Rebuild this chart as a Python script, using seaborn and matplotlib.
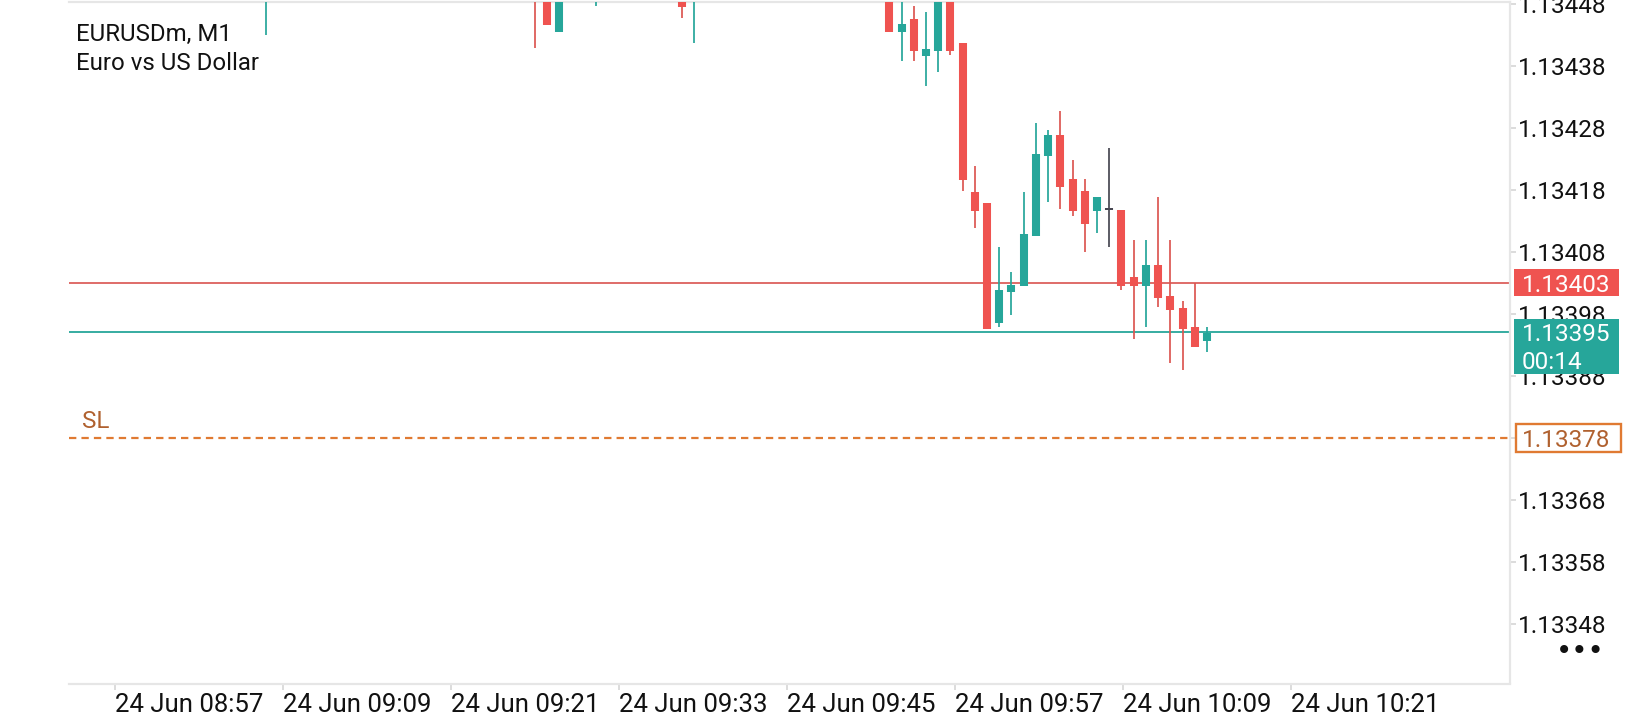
import numpy as np
import pandas as pd
import matplotlib
matplotlib.use("Agg")
import matplotlib.pyplot as plt
import matplotlib.transforms as mtransforms
from matplotlib.patches import Rectangle
import seaborn as sns

# ---------------- data ----------------
bar_idx = [0, 22, 23, 24, 27, 34, 35,
           51, 52, 53, 54, 55, 56, 57, 58, 59, 60, 61, 62, 63, 64,
           65, 66, 67, 68, 69, 70, 71, 72, 73, 74, 75, 76, 77]
open_ = [1.134520, 1.134700, 1.134620, 1.134435, 1.134520, 1.134520, 1.134500,
         1.134500, 1.134435, 1.134456, 1.134395, 1.134404, 1.134520, 1.134416,
         1.134177, 1.134158, 1.133965, 1.134015, 1.134025, 1.134106, 1.134235,
         1.134268, 1.134197, 1.134178, 1.134146, 1.134149, 1.134148, 1.134039,
         1.134025, 1.134059, 1.134009, 1.133989, 1.133959, 1.133936]
high = [1.134650, 1.134740, 1.134660, 1.134600, 1.134560, 1.134540, 1.134600,
        1.134560, 1.134500, 1.134476, 1.134466, 1.134540, 1.134560, 1.134416,
        1.134218, 1.134158, 1.134087, 1.134048, 1.134177, 1.134287, 1.134277,
        1.134307, 1.134228, 1.134197, 1.134168, 1.134247, 1.134148, 1.134099,
        1.134099, 1.134168, 1.134099, 1.134000, 1.134029, 1.133959]
low = [1.134430, 1.134408, 1.134445, 1.134435, 1.134477, 1.134457, 1.134417,
       1.134435, 1.134388, 1.134388, 1.134348, 1.134369, 1.134398, 1.134178,
       1.134119, 1.133956, 1.133959, 1.133978, 1.134025, 1.134106, 1.134160,
       1.134149, 1.134138, 1.134079, 1.134110, 1.134088, 1.134019, 1.133940,
       1.133959, 1.133990, 1.133900, 1.133890, 1.133927, 1.133919]
close = [1.134600, 1.134580, 1.134445, 1.134560, 1.134540, 1.134474, 1.134560,
         1.134435, 1.134447, 1.134404, 1.134407, 1.134500, 1.134404, 1.134195,
         1.134146, 1.133956, 1.134018, 1.134027, 1.134108, 1.134237, 1.134268,
         1.134185, 1.134146, 1.134125, 1.134168, 1.134149, 1.134025, 1.134025,
         1.134059, 1.134006, 1.133986, 1.133955, 1.133927, 1.133949]

tick_pos = [-12.36, 1.39, 15.14, 28.89, 42.63, 56.38, 70.13, 83.87]
tick_labels = ["24 Jun 08:57", "24 Jun 09:09", "24 Jun 09:21", "24 Jun 09:33",
               "24 Jun 09:45", "24 Jun 09:57", "24 Jun 10:09", "24 Jun 10:21"]
y_ticks = [1.13348, 1.13358, 1.13368, 1.13378, 1.13388, 1.13398,
           1.13408, 1.13418, 1.13428, 1.13438, 1.13448]

symbol = "EURUSDm, M1"
description = "Euro vs US Dollar"
position_price = 1.13403
bid_price = 1.13395
countdown = "00:14"
sl_price = 1.13378

# ---------------- style ----------------
UP = "#26a69a"
DOWN = "#ef5350"
DOWN_WICK = "#dc5651"
FLAT = "#474752"
SL_COL = "#e07a32"
SL_TXT = "#b0612f"
GRID = "#e6e6e6"

sns.set_theme(style="white")
plt.rcParams["font.family"] = ["Roboto", "DejaVu Sans"]

W, H = 1640, 720
fig = plt.figure(figsize=(W / 100, H / 100), dpi=100)
ax_left, ax_right, ax_top, ax_bot = 69, 1510, 2, 683.5
ax = fig.add_axes([ax_left / W, (H - ax_bot) / H,
                   (ax_right - ax_left) / W, (ax_bot - ax_top) / H])

ymin, ymax = 1.1333836, 1.1344827
ax.set_ylim(ymin, ymax)
ax.set_xlim(-16.12, 101.79)
px_per_unit = (ax_bot - ax_top) / (ymax - ymin)

# ---------------- candles ----------------
min_body = 2.0 / px_per_unit
wick_rows, body_rows = [], []
for i, (k, o, h, l, c) in enumerate(zip(bar_idx, open_, high, low, close)):
    d = "up" if c > o else ("down" if c < o else "flat")
    wick_rows += [(i, k, l, d), (i, k, h, d)]
    lo, hi = min(o, c), max(o, c)
    if hi - lo < min_body:
        mid = (hi + lo) / 2
        lo, hi = mid - min_body / 2, mid + min_body / 2
    body_rows += [(i, k, lo, d), (i, k, hi, d)]
wicks = pd.DataFrame(wick_rows, columns=["cid", "bar", "price", "dir"])
bodies = pd.DataFrame(body_rows, columns=["cid", "bar", "price", "dir"])

sns.lineplot(data=wicks, x="bar", y="price", hue="dir", units="cid",
             estimator=None, sort=False, legend=False, ax=ax,
             palette={"up": UP, "down": DOWN_WICK, "flat": FLAT},
             linewidth=1.25, solid_capstyle="butt", zorder=4)
sns.lineplot(data=bodies, x="bar", y="price", hue="dir", units="cid",
             estimator=None, sort=False, legend=False, ax=ax,
             palette={"up": UP, "down": DOWN, "flat": FLAT},
             linewidth=5.8, solid_capstyle="butt", zorder=5)

# ---------------- price lines ----------------
ax.axhline(position_price, color="#d9534f", lw=1.2, zorder=2)
ax.axhline(bid_price, color=UP, lw=1.3, zorder=2)
ax.axhline(sl_price, color=SL_COL, lw=1.6, dashes=(3.3, 2.3), zorder=2)
ax.text((82 - ax_left) / (ax_right - ax_left), sl_price + 10 / px_per_unit, "SL",
        transform=mtransforms.blended_transform_factory(ax.transAxes, ax.transData),
        ha="left", va="baseline", fontsize=17.5, color=SL_TXT)

# ---------------- axes styling ----------------
ax.set_xlabel("")
ax.set_ylabel("")
ax.set_xticks(tick_pos)
ax.set_xticklabels(tick_labels, ha="left")
ax.set_yticks(y_ticks)
ax.set_yticklabels([f"{v:.5f}" for v in y_ticks])
ax.yaxis.tick_right()
ax.tick_params(axis="y", right=True, left=False, labelright=True, labelleft=False,
               length=4, width=1.2, color="#d6d6d6", pad=2, labelsize=17.5,
               labelcolor="#111111")
ax.tick_params(axis="x", bottom=True, length=4, width=1.2, color="#d6d6d6",
               pad=3, labelsize=18.5, labelcolor="#111111")
for s in ["top", "bottom", "right"]:
    ax.spines[s].set_color(GRID)
    ax.spines[s].set_linewidth(1.6)
ax.spines["left"].set_visible(False)
ax.grid(False)

# ---------------- right-hand price boxes ----------------
bt = mtransforms.blended_transform_factory(fig.transFigure, ax.transData)
u = 1.0 / px_per_unit
ax.add_patch(Rectangle((1514 / W, position_price - 13.5 * u), 105 / W, 27 * u,
                       transform=bt, clip_on=False, facecolor=DOWN,
                       edgecolor="none", zorder=6))
ax.text(1522 / W, position_price, f"{position_price:.5f}", transform=bt,
        ha="left", va="center_baseline", fontsize=17.5, color="white", zorder=7,
        clip_on=False)
ax.add_patch(Rectangle((1514 / W, bid_price - 41.6 * u), 105 / W, 55.3 * u,
                       transform=bt, clip_on=False, facecolor=UP,
                       edgecolor="none", zorder=6))
ax.text(1522 / W, bid_price, f"{bid_price:.5f}", transform=bt,
        ha="left", va="center_baseline", fontsize=17.5, color="white", zorder=7,
        clip_on=False)
ax.text(1522 / W, bid_price - 28 * u, countdown, transform=bt,
        ha="left", va="center_baseline", fontsize=17.5, color="white", zorder=7,
        clip_on=False)
ax.add_patch(Rectangle((1516.5 / W, sl_price - 14 * u), 104.5 / W, 28 * u,
                       transform=bt, clip_on=False, facecolor="white",
                       edgecolor=SL_COL, linewidth=1.7, zorder=6))
ax.text(1522 / W, sl_price, f"{sl_price:.5f}", transform=bt,
        ha="left", va="center_baseline", fontsize=17.5, color=SL_TXT, zorder=7,
        clip_on=False)

# ---------------- header texts ----------------
fig.text(76 / W, 1 - 32 / H, symbol, ha="left", va="center_baseline",
         fontsize=17.3, color="#111111")
fig.text(76 / W, 1 - 61 / H, description, ha="left", va="center_baseline",
         fontsize=17.3, color="#111111")
fig.text(1580 / W, 1 - 651 / H, "\u2022\u2022\u2022", ha="center", va="center",
         fontsize=20, color="#111111", family=["DejaVu Sans"])

fig.savefig("out.png", dpi=100, facecolor="white")
